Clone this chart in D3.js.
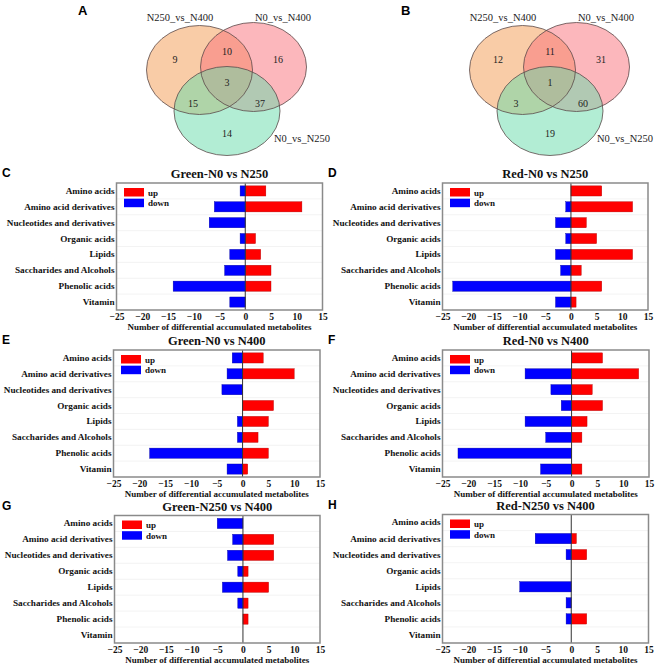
<!DOCTYPE html>
<html>
<head>
<meta charset="utf-8">
<script src="https://cdn.jsdelivr.net/npm/d3@7"></script>
<style>
  body { margin: 0; background: #fff; }
  svg { display: block; }
</style>
</head>
<body>
<svg id="drawing" width="655" height="667"></svg>
<script>
// ---- data ----
const categories = ["Amino acids", "Amino acid derivatives", "Nucleotides and derivatives",
  "Organic acids", "Lipids", "Saccharides and Alcohols", "Phenolic acids", "Vitamin"];
const xTicks = [-25, -20, -15, -10, -5, 0, 5, 10, 15];

const greenN0N250Up   = [4, 11, 0, 2, 3, 5, 5, 0];
const greenN0N250Down = [-1, -6, -7, -1, -3, -4, -14, -3];
const redN0N250Up     = [6, 12, 3, 5, 12, 2, 6, 1];
const redN0N250Down   = [0, -1, -3, -1, -3, -2, -23, -3];
const greenN0N400Up   = [4, 10, 0, 6, 5, 3, 5, 1];
const greenN0N400Down = [-2, -3, -4, 0, -1, -1, -18, -3];
const redN0N400Up     = [6, 13, 4, 6, 3, 2, 0, 2];
const redN0N400Down   = [0, -9, -4, -2, -9, -5, -22, -6];
const greenN250N400Up   = [0, 6, 6, 1, 5, 1, 1, 0];
const greenN250N400Down = [-5, -2, -3, -1, -4, -1, 0, 0];
const redN250N400Up     = [0, 1, 3, 0, 0, 0, 3, 0];
const redN250N400Down   = [0, -7, -1, 0, -10, -1, -1, 0];

const vennSets = ["N250_vs_N400", "N0_vs_N400", "N0_vs_N250"];
// regions: only set1, set1&2, only set2, all, set1&3, set2&3, only set3
const vennGreen = [9, 10, 16, 3, 15, 37, 14];
const vennRed   = [12, 11, 31, 1, 3, 60, 19];

const svg = d3.select("svg#drawing");
const serif = '"Liberation Serif", "Times New Roman", serif';
const sans = '"Liberation Sans", Arial, sans-serif';

// ---- venn diagrams ----
const vennColors = ["#f4994f", "#f9707a", "#66dcaa"];
const regionOffsets = [[-52, -8], [0, -16], [51, -8], [0, 15], [-34, 36], [33, 36], [0, 66]];

function drawVenn(cx, cy, counts, letter) {
  const g = svg.append("g");
  const ell = [
    { x: cx - 27.5, y: cy + 3, c: vennColors[0] },
    { x: cx + 26.5, y: cy, c: vennColors[1] },
    { x: cx, y: cy + 44, c: vennColors[2] }
  ];
  g.selectAll("ellipse.fill").data(ell).enter().append("ellipse")
    .attr("cx", d => d.x).attr("cy", d => d.y)
    .attr("rx", 53).attr("ry", 44.5)
    .attr("fill", d => d.c).attr("fill-opacity", 0.5);
  g.selectAll("ellipse.line").data(ell).enter().append("ellipse")
    .attr("cx", d => d.x).attr("cy", d => d.y)
    .attr("rx", 53).attr("ry", 44.5)
    .attr("fill", "none").attr("stroke", "#5a4a4a").attr("stroke-width", 0.8);
  g.selectAll("text.num").data(counts).enter().append("text")
    .attr("x", (d, i) => cx + regionOffsets[i][0])
    .attr("y", (d, i) => cy + regionOffsets[i][1])
    .attr("dy", "0.35em").attr("text-anchor", "middle")
    .style("font-family", serif).style("font-size", "10px").attr("fill", "#222")
    .text(d => d);
  const labPos = [[-47, -50], [56, -50], [75, 71]];
  g.selectAll("text.lab").data(vennSets).enter().append("text")
    .attr("x", (d, i) => cx + labPos[i][0])
    .attr("y", (d, i) => cy + labPos[i][1])
    .attr("dy", "0.35em").attr("text-anchor", "middle")
    .style("font-family", serif).style("font-size", "10.5px").attr("fill", "#222")
    .text(d => d);
  svg.append("text").attr("x", cx - 149).attr("y", 15)
    .style("font-family", sans).style("font-weight", "bold").style("font-size", "13px")
    .text(letter);
}
drawVenn(227, 67, vennGreen, "A");
drawVenn(550, 67, vennRed, "B");

// ---- bar panels ----
const panels = [
  { letter: "C", title: "Green-N0 vs N250", up: greenN0N250Up, down: greenN0N250Down, x0: 116.5, x1: 322.5, y0: 183, y1: 310 },
  { letter: "D", title: "Red-N0 vs N250", up: redN0N250Up, down: redN0N250Down, x0: 442.5, x1: 648, y0: 183, y1: 310 },
  { letter: "E", title: "Green-N0 vs N400", up: greenN0N400Up, down: greenN0N400Down, x0: 113.5, x1: 320, y0: 350, y1: 477 },
  { letter: "F", title: "Red-N0 vs N400", up: redN0N400Up, down: redN0N400Down, x0: 442.5, x1: 649, y0: 350, y1: 477 },
  { letter: "G", title: "Green-N250 vs N400", up: greenN250N400Up, down: greenN250N400Down, x0: 114.5, x1: 320, y0: 515.5, y1: 643 },
  { letter: "H", title: "Red-N250 vs N400", up: redN250N400Up, down: redN250N400Down, x0: 442.5, x1: 648.5, y0: 514.5, y1: 643 }
];

panels.forEach((p, pi) => {
  const g = svg.append("g");
  const x = d3.scaleLinear().domain([-25, 15]).range([p.x0, p.x1]);
  const y = d3.scaleBand().domain(categories).range([p.y0, p.y1]).paddingInner(0.36).paddingOuter(0.18);
  const step = (p.y1 - p.y0) / categories.length;

  // faint row lines
  g.selectAll("line.grid").data(d3.range(1, categories.length)).enter().append("line")
    .attr("x1", p.x0).attr("x2", p.x1)
    .attr("y1", d => p.y0 + d * step).attr("y2", d => p.y0 + d * step)
    .attr("stroke", "#f0f0f0").attr("stroke-width", 0.8);

  g.selectAll("rect.up").data(p.up).enter().append("rect")
    .attr("x", x(0)).attr("y", (d, i) => y(categories[i]))
    .attr("width", d => x(d) - x(0)).attr("height", y.bandwidth())
    .attr("fill", "#ff0000").attr("stroke", d => d ? "#b00000" : "none").attr("stroke-width", 0.4);
  g.selectAll("rect.down").data(p.down).enter().append("rect")
    .attr("x", d => x(d)).attr("y", (d, i) => y(categories[i]))
    .attr("width", d => x(0) - x(d)).attr("height", y.bandwidth())
    .attr("fill", "#0000ff").attr("stroke", d => d ? "#0000a0" : "none").attr("stroke-width", 0.4);

  // zero line
  g.append("line").attr("x1", x(0)).attr("x2", x(0)).attr("y1", p.y0).attr("y2", p.y1)
    .attr("stroke", "#333").attr("stroke-width", 1);

  // frame
  g.append("rect").attr("x", p.x0).attr("y", p.y0)
    .attr("width", p.x1 - p.x0).attr("height", p.y1 - p.y0)
    .attr("fill", "none").attr("stroke", "#8a8a8a").attr("stroke-width", 1.5);

  // axes
  const xa = g.append("g").attr("transform", `translate(0,${p.y1})`)
    .call(d3.axisBottom(x).tickValues(xTicks).tickSize(0).tickPadding(3));
  xa.select(".domain").remove();
  xa.selectAll("text").style("font-family", serif).style("font-weight", "bold")
    .style("font-size", "9.5px").attr("fill", "#111");

  const ya = g.append("g").attr("transform", `translate(${p.x0},0)`)
    .call(d3.axisLeft(y).tickSize(0).tickPadding(2));
  ya.select(".domain").remove();
  ya.selectAll("text").style("font-family", serif).style("font-weight", "bold")
    .style("font-size", "9.2px").attr("fill", "#111");

  g.append("text").attr("x", (p.x0 + p.x1) / 2).attr("y", p.y1 + 20)
    .attr("text-anchor", "middle")
    .style("font-family", serif).style("font-weight", "bold").style("font-size", "9px")
    .attr("fill", "#111").text("Number of differential accumulated metabolites");

  g.append("text").attr("x", (p.x0 + p.x1) / 2).attr("y", p.y0 - 5)
    .attr("text-anchor", "middle")
    .style("font-family", serif).style("font-weight", "bold").style("font-size", "12.5px")
    .attr("fill", "#111").text(p.title);

  // legend
  const leg = [{ t: "up", c: "#ff0000" }, { t: "down", c: "#0000ff" }];
  const lg = g.append("g").attr("transform", `translate(${p.x0 + 7.5},${p.y0 + 5})`);
  lg.selectAll("rect").data(leg).enter().append("rect")
    .attr("x", 0).attr("y", (d, i) => i * 10.7)
    .attr("width", 20).attr("height", 8.5).attr("fill", d => d.c);
  lg.selectAll("text").data(leg).enter().append("text")
    .attr("x", 24).attr("y", (d, i) => i * 10.7 + 4.5).attr("dy", "0.35em")
    .style("font-family", serif).style("font-weight", "bold").style("font-size", "9px")
    .attr("fill", "#111").text(d => d.t);

  svg.append("text").attr("x", pi % 2 === 0 ? 2 : 328).attr("y", p.y0 - 6)
    .style("font-family", sans).style("font-weight", "bold").style("font-size", "12px")
    .text(p.letter);
});
</script>
</body>
</html>
